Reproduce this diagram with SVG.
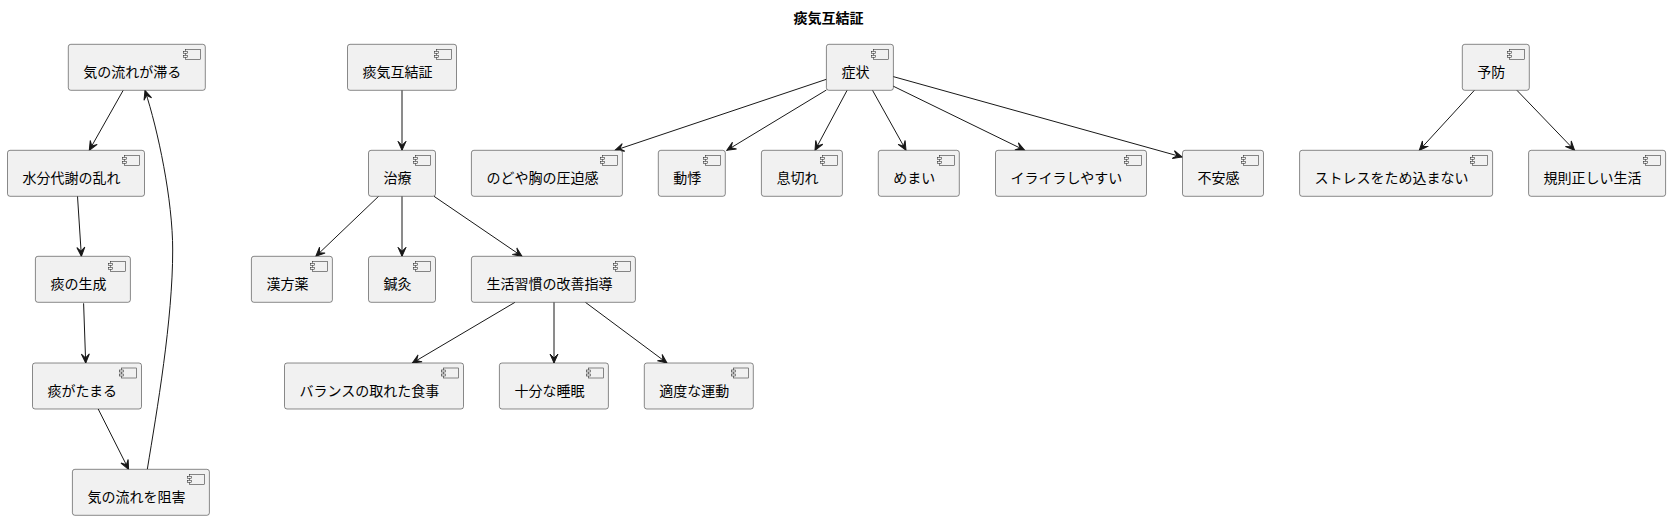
<svg xmlns="http://www.w3.org/2000/svg" width="1670" height="520" viewBox="0 0 1670 520">
<defs>
<style>
.box{fill:#F1F1F1;stroke:#181818;stroke-width:0.5}
.ic{fill:#F1F1F1;stroke:#181818;stroke-width:0.5}
.lbl{font-family:"Noto Sans CJK JP","Noto Sans",sans-serif;font-size:14px;fill:#000}
.ttl{font-family:"Noto Sans CJK JP","Noto Sans",sans-serif;font-size:14px;font-weight:bold;fill:#000}
.edge{fill:none;stroke:#181818;stroke-width:1}
</style>
<marker id="ah" viewBox="-10 -5 11 10" refX="0" refY="0" markerWidth="11" markerHeight="10" markerUnits="userSpaceOnUse" orient="auto">
<path d="M0,0 L-9,-4 L-5,0 L-9,4 Z" fill="#181818" stroke="#181818" stroke-width="1"/>
</marker>
<g id="icon">
<rect class="ic" x="-20" y="5" width="15" height="10"/>
<rect class="ic" x="-22" y="7" width="4" height="2"/>
<rect class="ic" x="-22" y="11" width="4" height="2"/>
</g>
</defs>
<rect width="1670" height="520" fill="#FFFFFF"/>
<text class="ttl" x="828.5" y="23" text-anchor="middle">痰気互結証</text>

<g id="connectors">
<line class="edge" x1="123.2" y1="90.3" x2="89.3" y2="150.3" marker-end="url(#ah)"/>
<line class="edge" x1="77.5" y1="196.3" x2="81.4" y2="256.3" marker-end="url(#ah)"/>
<line class="edge" x1="83.6" y1="303.3" x2="85.7" y2="363" marker-end="url(#ah)"/>
<line class="edge" x1="98.2" y1="409" x2="128.6" y2="469.3" marker-end="url(#ah)"/>
<path class="edge" d="M147.3,469.3 C157,410 172.7,320 172.7,250 C172.7,200 158,130 145,90.5" marker-end="url(#ah)"/>
<line class="edge" x1="402" y1="90.3" x2="402" y2="150.3" marker-end="url(#ah)"/>
<line class="edge" x1="378.6" y1="196.3" x2="315.8" y2="256.3" marker-end="url(#ah)"/>
<line class="edge" x1="402" y1="196.3" x2="402" y2="256.3" marker-end="url(#ah)"/>
<line class="edge" x1="434" y1="196.3" x2="522" y2="256.3" marker-end="url(#ah)"/>
<line class="edge" x1="515" y1="302.3" x2="412.3" y2="363" marker-end="url(#ah)"/>
<line class="edge" x1="554" y1="302.3" x2="554" y2="363" marker-end="url(#ah)"/>
<line class="edge" x1="585.4" y1="302.3" x2="667" y2="363" marker-end="url(#ah)"/>
<line class="edge" x1="826.4" y1="79.3" x2="615" y2="150.3" marker-end="url(#ah)"/>
<line class="edge" x1="826.4" y1="90" x2="726.8" y2="150.3" marker-end="url(#ah)"/>
<line class="edge" x1="847.1" y1="90.3" x2="815" y2="150.3" marker-end="url(#ah)"/>
<line class="edge" x1="872.5" y1="90.3" x2="906" y2="150.3" marker-end="url(#ah)"/>
<line class="edge" x1="892.9" y1="86" x2="1024.7" y2="150.3" marker-end="url(#ah)"/>
<line class="edge" x1="892.9" y1="76.5" x2="1182" y2="157" marker-end="url(#ah)"/>
<line class="edge" x1="1474.4" y1="90.3" x2="1419.3" y2="150.3" marker-end="url(#ah)"/>
<line class="edge" x1="1516.9" y1="90.3" x2="1574.6" y2="150.3" marker-end="url(#ah)"/>
</g>

<g id="n_kinonagare_todokoru"><rect class="box" x="68.3" y="44.3" width="137" height="46" rx="2.5"/><use href="#icon" x="205.3" y="44.3"/><text class="lbl" x="83.3" y="77.3">気の流れが滞る</text></g>
<g id="n_suibun"><rect class="box" x="7.5" y="150.3" width="137" height="46" rx="2.5"/><use href="#icon" x="144.5" y="150.3"/><text class="lbl" x="22.5" y="183.3">水分代謝の乱れ</text></g>
<g id="n_tan_seisei"><rect class="box" x="35.4" y="256.3" width="95" height="46" rx="2.5"/><use href="#icon" x="130.4" y="256.3"/><text class="lbl" x="50.4" y="289.3">痰の生成</text></g>
<g id="n_tan_tamaru"><rect class="box" x="32.5" y="363" width="109" height="46" rx="2.5"/><use href="#icon" x="141.5" y="363"/><text class="lbl" x="47.5" y="396">痰がたまる</text></g>
<g id="n_kinonagare_sogai"><rect class="box" x="72.4" y="469.3" width="137" height="46" rx="2.5"/><use href="#icon" x="209.4" y="469.3"/><text class="lbl" x="87.4" y="502.3">気の流れを阻害</text></g>

<g id="n_tanki"><rect class="box" x="347.5" y="44.3" width="109" height="46" rx="2.5"/><use href="#icon" x="456.5" y="44.3"/><text class="lbl" x="362.5" y="77.3">痰気互結証</text></g>
<g id="n_chiryo"><rect class="box" x="368.5" y="150.3" width="67" height="46" rx="2.5"/><use href="#icon" x="435.5" y="150.3"/><text class="lbl" x="383.5" y="183.3">治療</text></g>
<g id="n_kampo"><rect class="box" x="251.4" y="256.3" width="81" height="46" rx="2.5"/><use href="#icon" x="332.4" y="256.3"/><text class="lbl" x="266.4" y="289.3">漢方薬</text></g>
<g id="n_shinkyu"><rect class="box" x="368.5" y="256.3" width="67" height="46" rx="2.5"/><use href="#icon" x="435.5" y="256.3"/><text class="lbl" x="383.5" y="289.3">鍼灸</text></g>
<g id="n_seikatsu"><rect class="box" x="471.4" y="256.3" width="164" height="46" rx="2.5"/><use href="#icon" x="635.4" y="256.3"/><text class="lbl" x="486.4" y="289.3">生活習慣の改善指導</text></g>
<g id="n_balance"><rect class="box" x="284.5" y="363" width="179" height="46" rx="2.5"/><use href="#icon" x="463.5" y="363"/><text class="lbl" x="299.5" y="396">バランスの取れた食事</text></g>
<g id="n_suimin"><rect class="box" x="499.4" y="363" width="109" height="46" rx="2.5"/><use href="#icon" x="608.4" y="363"/><text class="lbl" x="514.4" y="396">十分な睡眠</text></g>
<g id="n_undo"><rect class="box" x="644.3" y="363" width="109" height="46" rx="2.5"/><use href="#icon" x="753.3" y="363"/><text class="lbl" x="659.3" y="396">適度な運動</text></g>

<g id="n_shojo"><rect class="box" x="826.4" y="44.3" width="67" height="46" rx="2.5"/><use href="#icon" x="893.4" y="44.3"/><text class="lbl" x="841.4" y="77.3">症状</text></g>
<g id="n_nodo"><rect class="box" x="471.4" y="150.3" width="151" height="46" rx="2.5"/><use href="#icon" x="622.4" y="150.3"/><text class="lbl" x="486.4" y="183.3">のどや胸の圧迫感</text></g>
<g id="n_doki"><rect class="box" x="658.3" y="150.3" width="67" height="46" rx="2.5"/><use href="#icon" x="725.3" y="150.3"/><text class="lbl" x="673.3" y="183.3">動悸</text></g>
<g id="n_ikigire"><rect class="box" x="761.4" y="150.3" width="81" height="46" rx="2.5"/><use href="#icon" x="842.4" y="150.3"/><text class="lbl" x="776.4" y="183.3">息切れ</text></g>
<g id="n_memai"><rect class="box" x="878.3" y="150.3" width="81" height="46" rx="2.5"/><use href="#icon" x="959.3" y="150.3"/><text class="lbl" x="893.3" y="183.3">めまい</text></g>
<g id="n_iraira"><rect class="box" x="995.5" y="150.3" width="151" height="46" rx="2.5"/><use href="#icon" x="1146.5" y="150.3"/><text class="lbl" x="1010.5" y="183.3">イライラしやすい</text></g>
<g id="n_fuan"><rect class="box" x="1182.5" y="150.3" width="81" height="46" rx="2.5"/><use href="#icon" x="1263.5" y="150.3"/><text class="lbl" x="1197.5" y="183.3">不安感</text></g>

<g id="n_yobo"><rect class="box" x="1462.3" y="44.3" width="67" height="46" rx="2.5"/><use href="#icon" x="1529.3" y="44.3"/><text class="lbl" x="1477.3" y="77.3">予防</text></g>
<g id="n_stress"><rect class="box" x="1299.6" y="150.3" width="193" height="46" rx="2.5"/><use href="#icon" x="1492.6" y="150.3"/><text class="lbl" x="1314.6" y="183.3">ストレスをため込まない</text></g>
<g id="n_kisoku"><rect class="box" x="1528.6" y="150.3" width="137" height="46" rx="2.5"/><use href="#icon" x="1665.6" y="150.3"/><text class="lbl" x="1543.6" y="183.3">規則正しい生活</text></g>
</svg>
